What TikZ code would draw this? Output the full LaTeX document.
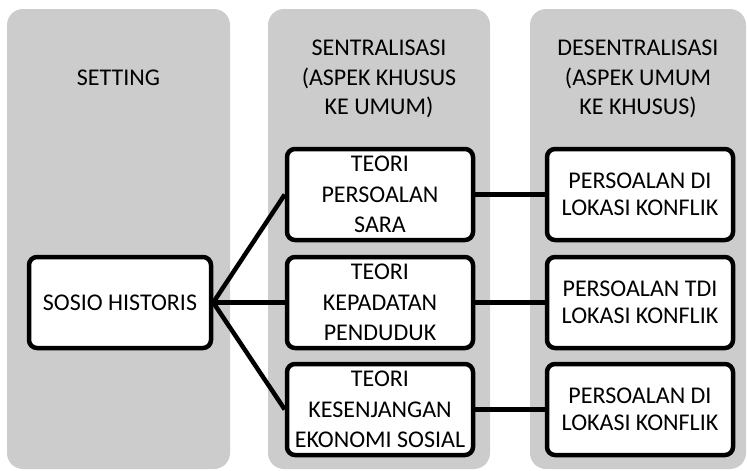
\documentclass[tikz,border=0pt]{standalone}
\usepackage{fontspec}
\setmainfont{Carlito}
\definecolor{colgrey}{HTML}{CCCCCC}
\begin{document}
\begin{tikzpicture}[x=1pt,y=-1pt,
  column/.style={fill=colgrey,draw=none,rounded corners=16pt,inner sep=0pt,minimum width=#1,minimum height=460pt},
  header/.style={align=center,inner sep=0pt,font=\fontsize{24}{29.5}\selectfont,text=black},
  box/.style={draw=black,fill=white,line width=4.5pt,rounded corners=8pt,inner sep=0pt,
    minimum width=186pt,minimum height=91pt,align=center,text=black},
  teoritext/.style={font=\fontsize{24}{30.5}\selectfont},
  konftext/.style={font=\fontsize{24}{26.5}\selectfont},
  link/.style={draw=black,line width=4.5pt}]
\useasboundingbox (0,0) rectangle (747,471);
\node[column=223pt] (c1) at (118.5,239) {};
\node[column=222pt] (c2) at (379,239) {};
\node[column=216pt] (c3) at (638,239) {};
\node[header] (h1) at (118.5,78) {SETTING};
\node[header] (h2) at (379,79) {SENTRALISASI\\(ASPEK KHUSUS\\KE UMUM)};
\node[header] (h3) at (638,79) {DESENTRALISASI\\(ASPEK UMUM\\KE KHUSUS)};
\node[box,minimum width=182pt,font=\fontsize{24}{29}\selectfont] (s) at (120,302.5) {SOSIO HISTORIS};
\node[box,teoritext] (t1) at (380,194.5) {TEORI\\PERSOALAN\\SARA};
\node[box,teoritext] (t2) at (380,302.5) {TEORI\\KEPADATAN\\PENDUDUK};
\node[box,teoritext] (t3) at (380,409.5) {TEORI\\KESENJANGAN\\EKONOMI SOSIAL};
\node[box,konftext] (k1) at (640,194.5) {PERSOALAN DI\\LOKASI KONFLIK};
\node[box,konftext] (k2) at (640,302.5) {PERSOALAN TDI\\LOKASI KONFLIK};
\node[box,konftext] (k3) at (640,409.5) {PERSOALAN DI\\LOKASI KONFLIK};
\draw[link] (s.east) -- (t1.west);
\draw[link] (s.east) -- (t2.west);
\draw[link] (s.east) -- (t3.west);
\draw[link] (t1.east) -- (k1.west);
\draw[link] (t2.east) -- (k2.west);
\draw[link] (t3.east) -- (k3.west);
\end{tikzpicture}
\end{document}
